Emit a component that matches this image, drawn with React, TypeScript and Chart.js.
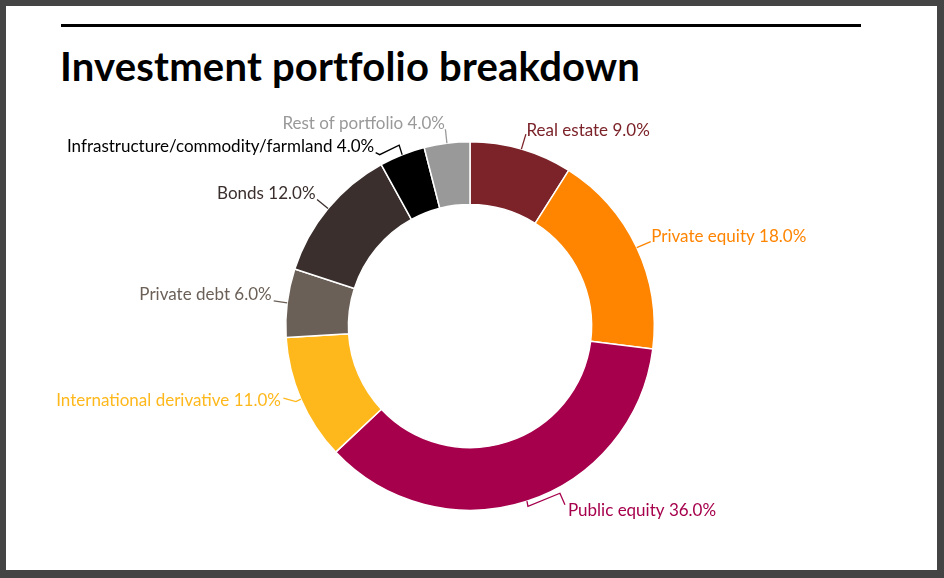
import React, { useEffect, useRef } from "react";
import { Chart, registerables } from "chart.js";

Chart.register(...registerables);

const categories = [
  "Real estate",
  "Private equity",
  "Public equity",
  "International derivative",
  "Private debt",
  "Bonds",
  "Infrastructure/commodity/farmland",
  "Rest of portfolio",
];
const values = [9, 18, 36, 11, 6, 12, 4, 4];
const sliceColors = ["#7B2329", "#FF8400", "#A6004C", "#FFB81C", "#6B6057", "#3A2F2D", "#000000", "#999999"];
const textColors = ["#7B2329", "#FF8400", "#A6004C", "#FFB81C", "#6B6057", "#3A2F2D", "#000000", "#999999"];

// leader-line layout: offsets from the slice's outer mid-point, final text anchor and alignment
const leaderPaths: number[][][] = [
  [[0, 0], [4.5, -15]],
  [[0, 0], [14, -6]],
  [[0, 0], [1, 5], [33, -8], [38, 3.5]],
  [[0, 0], [-5, 2.5], [-17.5, -1]],
  [[0, 0], [-13.5, -2]],
  [[0, 0], [-11, -9]],
  [[0, 0], [-3, -9.5], [-22.5, 0], [-26.5, -2]],
  [[0, 0], [-1.5, -14]],
];
const textAnchors: number[][] = [
  [5, -19], [14.5, -11], [41, 9.5], [-20, 1], [-15.5, -8], [-12.5, -15], [-28, -8], [-2, -20],
];
const textAlign: ("left" | "right")[] = ["left", "left", "left", "right", "right", "right", "right", "right"];

const LABEL_FONT = '17px Lato, "Noto Sans", sans-serif';

const labelPlugin = {
  id: "leaderLabels",
  afterDatasetsDraw(chart: any) {
    const ctx = chart.ctx;
    const meta = chart.getDatasetMeta(0);
    ctx.save();
    meta.data.forEach((arc: any, i: number) => {
      const p = arc.getProps(["x", "y", "startAngle", "endAngle", "outerRadius"], true);
      const a = (p.startAngle + p.endAngle) / 2;
      const ax = p.x + Math.cos(a) * p.outerRadius;
      const ay = p.y + Math.sin(a) * p.outerRadius;
      ctx.strokeStyle = sliceColors[i];
      ctx.lineWidth = 1.3;
      ctx.beginPath();
      leaderPaths[i].forEach((pt, k) => {
        if (k === 0) ctx.moveTo(ax + pt[0], ay + pt[1]);
        else ctx.lineTo(ax + pt[0], ay + pt[1]);
      });
      ctx.stroke();
      const total = values.reduce((s, v) => s + v, 0);
      const txt = `${categories[i]} ${((values[i] / total) * 100).toFixed(1)}%`;
      ctx.font = LABEL_FONT;
      ctx.fillStyle = textColors[i];
      ctx.textAlign = textAlign[i];
      ctx.textBaseline = "middle";
      ctx.fillText(txt, ax + textAnchors[i][0], ay + textAnchors[i][1]);
    });
    ctx.restore();
  },
};

export default function App() {
  const ref = useRef<HTMLCanvasElement | null>(null);
  useEffect(() => {
    if (!ref.current) return;
    const chart = new Chart(ref.current, {
      type: "doughnut",
      data: {
        labels: categories,
        datasets: [
          {
            data: values,
            backgroundColor: sliceColors,
            borderColor: "#ffffff",
            borderWidth: 1.5,
          },
        ],
      },
      options: {
        responsive: false,
        animation: false,
        cutout: "66%",
        layout: { padding: { left: 285, right: 289, top: 141, bottom: 67 } },
        plugins: { legend: { display: false }, tooltip: { enabled: false }, title: { display: false } },
      },
      plugins: [labelPlugin],
    });
    return () => chart.destroy();
  }, []);

  return (
    <div style={{ position: "fixed", left: 0, top: 0, width: 944, height: 578, background: "#444444", overflow: "hidden" }}>
      <div style={{ position: "absolute", left: 6, top: 6, width: 931, height: 564, background: "#ffffff" }} />
      <div style={{ position: "absolute", left: 61, top: 24, width: 800, height: 3, background: "#000000" }} />
      <div
        style={{
          position: "absolute",
          left: 60,
          top: 41.5,
          fontFamily: 'Lato, "Noto Sans", sans-serif',
          fontWeight: 700,
          fontSize: 40,
          letterSpacing: 0.2,
          lineHeight: 1.2,
          color: "#000000",
          whiteSpace: "nowrap",
        }}
      >
        Investment portfolio breakdown
      </div>
      <canvas ref={ref} width={944} height={578} style={{ position: "absolute", left: 0, top: 0, width: 944, height: 578 }} />
    </div>
  );
}
